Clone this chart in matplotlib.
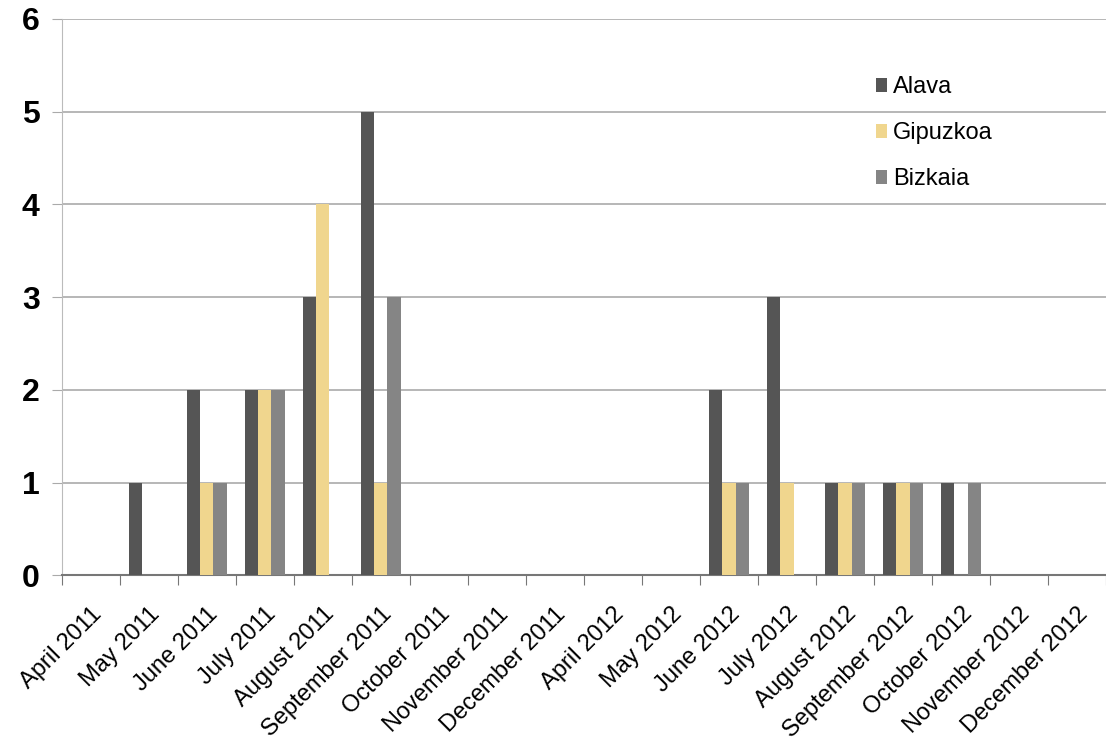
import numpy as np
import matplotlib
matplotlib.use('Agg')
import matplotlib.pyplot as plt

plt.rcParams['font.family'] = ['Liberation Sans', 'DejaVu Sans']

# months on the x axis
months = ['April 2011', 'May 2011', 'June 2011', 'July 2011', 'August 2011',
          'September 2011', 'October 2011', 'November 2011', 'December 2011',
          'April 2012', 'May 2012', 'June 2012', 'July 2012', 'August 2012',
          'September 2012', 'October 2012', 'November 2012', 'December 2012']

# counts per province
alava = [0, 1, 2, 2, 3, 5, 0, 0, 0, 0, 0, 2, 3, 1, 1, 1, 0, 0]
gipuzkoa = [0, 0, 1, 2, 4, 1, 0, 0, 0, 0, 0, 1, 1, 1, 1, 0, 0, 0]
bizkaia = [0, 0, 1, 2, 0, 3, 0, 0, 0, 0, 0, 1, 0, 1, 1, 1, 0, 0]

series = ['Alava', 'Gipuzkoa', 'Bizkaia']
colors = ['#555555', '#f0d68e', '#858585']

fig = plt.figure(figsize=(11.06, 7.53), dpi=100)
ax = fig.add_axes([0.056, 0.236, 0.944, 0.739])

x = np.arange(len(months))
w = 0.225
for i, (vals, name, c) in enumerate(zip([alava, gipuzkoa, bizkaia], series, colors)):
    ax.bar(x + (i - 1) * w, vals, width=w, color=c, label=name, zorder=3)

ax.set_xlim(-0.5, len(months) - 0.5)
ax.set_ylim(0, 6)
ax.set_yticks(range(7))
ax.yaxis.grid(True, color='#aaaaaa', linewidth=1.2, zorder=0)
ax.tick_params(axis='y', length=7, color='#aaaaaa', labelsize=23, pad=9)
for t in ax.get_yticklabels():
    t.set_fontweight('bold')

# ticks between categories, labels under centres
ax.set_xticks(np.arange(len(months) + 1) - 0.5)
ax.set_xticklabels([])
ax.set_xticks(x, minor=True)
ax.set_xticklabels(months, minor=True, rotation=45, ha='right',
                   rotation_mode='anchor', fontsize=17)
ax.tick_params(axis='x', which='major', length=7, color='#777777')
ax.tick_params(axis='x', which='minor', length=0, pad=20)

for s in ['top', 'right']:
    ax.spines[s].set_visible(False)
ax.spines['left'].set_color('#bbbbbb')
ax.spines['bottom'].set_color('#777777')
ax.spines['bottom'].set_linewidth(1.5)

ax.legend(loc='upper left', bbox_to_anchor=(0.759, 0.935), frameon=False,
          fontsize=17, handlelength=0.5, handleheight=0.5, handletextpad=0.25,
          labelspacing=1.02)

fig.savefig('out.png', dpi=100)
